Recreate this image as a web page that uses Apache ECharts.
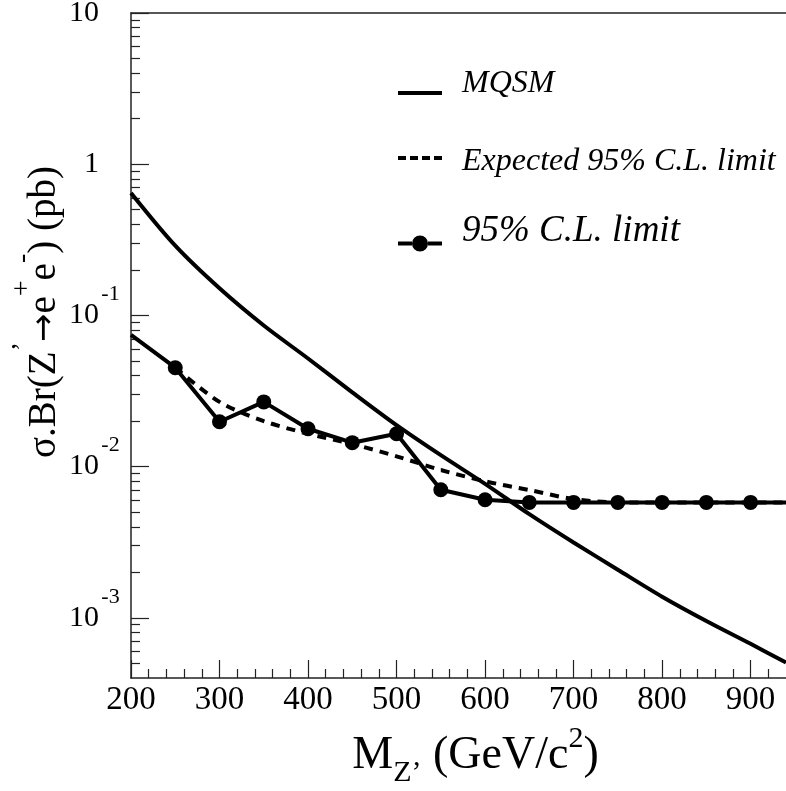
<!DOCTYPE html>
<html>
<head>
<meta charset="utf-8">
<script src="https://cdn.jsdelivr.net/npm/echarts@6/dist/echarts.min.js"></script>
<style>html,body{margin:0;padding:0;background:#fff;}#c{width:786px;height:791px;}</style>
</head>
<body>
<div id="c"></div>
<script>
// ---- data ----
const mqsmMass = [200,250,300,350,400,450,500,550,600,650,700,750,800,850,900,940];
const mqsmXsec = [0.645,0.289,0.151,0.0857,0.0519,0.031,0.0188,0.0119,0.00769,0.00485,0.00315,0.00208,0.00138,0.000953,0.000673,0.000506];

const expMass = [250,300,350,400,450,500,550,600,650,700,750,800,850,900,940];
const expLimit = [0.0451,0.0268,0.0200,0.0165,0.0141,0.0117,0.0095,0.0080,0.0070,0.0061,0.0058,0.0058,0.0058,0.0058,0.0058];

const obsMass = [200,250,300,350,400,450,500,550,600,650,700,750,800,850,900,940];
const obsLimit = [0.0744,0.0451,0.0198,0.0268,0.0178,0.0144,0.0165,0.00703,0.00604,0.0058,0.0058,0.0058,0.0058,0.0058,0.0058,0.0058];
const obsMarked = [false,true,true,true,true,true,true,true,true,true,true,true,true,true,true,false];

const xTickLabels = [200,300,400,500,600,700,800,900];
const yTickLabels = [0.001,0.01,0.1,1,10];

const names = ['MQSM','Expected 95% C.L. limit','95% C.L. limit'];

// ---- build ----
const serif = 'Liberation Serif';
const yMinor = [];
[1e-4,1e-3,1e-2,1e-1,1].forEach(d => { for (let k=2;k<=9;k++){ const v=+(k*d).toPrecision(3); if (v>4e-4 && v<10) yMinor.push(v);} });
const xMinor = [];
for (let v=220; v<=920; v+=20) if (v%100!==0) xMinor.push(v);

const zip = (a,b) => a.map((x,i)=>[x,b[i]]);
const obsData = obsMass.map((m,i)=> obsMarked[i] ? [m,obsLimit[i]] : {value:[m,obsLimit[i]], symbol:'none'});

const supExp = {'0.001':'-3','0.01':'-2','0.1':'-1'};

const chart = echarts.init(document.getElementById('c'), null, {renderer:'canvas'});
const axisLineStyle = {color:'#222', width:1.5};
const legendBase = {orient:'vertical', left:398, padding:0, itemWidth:44, selectedMode:false,
  textStyle:{color:'#000'}};
function legendText(size, padTop, padBottom){
  return {fontFamily:serif, fontStyle:'italic', fontSize:size, color:'#000',
    rich:{t:{fontFamily:serif, fontStyle:'italic', fontSize:size, lineHeight:size+4, color:'#000', padding:[padTop,0,padBottom,15]}}};
}
chart.setOption({
  animation:false,
  backgroundColor:'#fff',
  grid:{left:131, right:0, top:13, bottom:113, containLabel:false, outerBoundsMode:'none'},
  legend:[
    Object.assign({}, legendBase, {top:68, itemHeight:4, formatter:'{t|{name}}',
      data:[{name:names[0], icon:'path://M0,0h44v4h-44z'}], textStyle:legendText(32,0,18)}),
    Object.assign({}, legendBase, {top:138, itemHeight:4, formatter:'{t|{name}}',
      data:[{name:names[1], icon:'path://M0,0h8v4h-8z M12,0h8v4h-8z M24,0h8v4h-8z M36,0h8v4h-8z'}], textStyle:legendText(32,8,0)}),
    Object.assign({}, legendBase, {top:213, itemHeight:16, formatter:'{t|{name}}',
      data:[{name:names[2], icon:'path://M0,8h14v4h-14z M30,8h14v4h-14z M14,10a8,8 0 1,1 16,0a8,8 0 1,1 -16,0z'}], textStyle:legendText(37,0,24)})
  ],
  xAxis:[
    {type:'value', min:200, max:940, position:'bottom', gridIndex:0,
     axisLine:{show:true, lineStyle:axisLineStyle},
     axisTick:{show:true, inside:true, length:18, customValues:xTickLabels, lineStyle:{color:'#222', width:1.2}},
     axisLabel:{customValues:xTickLabels, fontFamily:serif, fontSize:33, color:'#000', margin:6},
     splitLine:{show:false},
     name:'M{sub|Z\u2019} (GeV/c{sup|2})', nameLocation:'middle', nameGap:46,
     nameTextStyle:{fontFamily:serif, fontSize:46, color:'#000', lineHeight:64, padding:[0,0,0,34],
       rich:{sub:{fontFamily:serif, fontSize:30, lineHeight:30, verticalAlign:'bottom', color:'#000'},
             sup:{fontFamily:serif, fontSize:30, lineHeight:30, verticalAlign:'top', color:'#000'}}}},
    {type:'value', min:200, max:940, position:'bottom', gridIndex:0,
     axisLine:{show:false}, axisLabel:{show:false}, splitLine:{show:false},
     axisTick:{show:true, inside:true, length:9, customValues:xMinor, lineStyle:{color:'#222', width:1.2}}},
    {type:'value', min:200, max:940, position:'top', gridIndex:0,
     axisLine:{show:true, lineStyle:axisLineStyle}, axisLabel:{show:false}, axisTick:{show:false}, splitLine:{show:false}}
  ],
  yAxis:[
    {type:'log', logBase:10, min:4e-4, max:10, position:'left', gridIndex:0,
     axisLine:{show:true, lineStyle:axisLineStyle},
     axisTick:{show:true, inside:true, length:18, customValues:yTickLabels, lineStyle:{color:'#222', width:1.2}},
     axisLabel:{customValues:yTickLabels, margin:9, color:'#000',
       formatter:function(v){ const k = String(+v.toPrecision(3)); if (supExp[k]) return '{b|10}{sup|'+supExp[k]+'}'; return '{b|'+k+'}{sp|}'; },
       rich:{b:{fontFamily:serif, fontSize:30, lineHeight:64, color:'#000'},
             sup:{fontFamily:serif, fontSize:22, lineHeight:22, verticalAlign:'top', width:23, align:'left', color:'#000'},
             sp:{width:23, fontSize:22, lineHeight:22}}},
     splitLine:{show:false},
     name:'\u03c3.Br(Z{sup|\u2019}{arr|\u2192}e{sup|+}e{sup|-}) (pb)', nameLocation:'middle', nameGap:50, nameRotate:90,
     nameMoveOverlap:false,
     nameTextStyle:{fontFamily:serif, fontSize:39, color:'#000', lineHeight:72, padding:[0,0,0,67],
       rich:{sup:{fontFamily:serif, fontSize:28, lineHeight:28, verticalAlign:'top', color:'#000'},
             arr:{fontFamily:'DejaVu Sans', fontSize:34, lineHeight:34, color:'#000'}}}},
    {type:'log', logBase:10, min:4e-4, max:10, position:'left', gridIndex:0,
     axisLine:{show:false}, axisLabel:{show:false}, splitLine:{show:false},
     axisTick:{show:true, inside:true, length:9, customValues:yMinor, lineStyle:{color:'#222', width:1.2}}}
  ],
  series:[
    {name:names[1], type:'line', xAxisIndex:0, yAxisIndex:0, data:zip(expMass,expLimit), smooth:0.3,
     showSymbol:false, symbol:'none', lineStyle:{color:'#000', width:4, type:[9,7]}, itemStyle:{color:'#000'}, z:2},
    {name:names[0], type:'line', xAxisIndex:0, yAxisIndex:0, data:zip(mqsmMass,mqsmXsec), smooth:0.3,
     showSymbol:false, symbol:'none', lineStyle:{color:'#000', width:4}, itemStyle:{color:'#000'}, z:3},
    {name:names[2], type:'line', xAxisIndex:0, yAxisIndex:0, data:obsData, symbol:'circle', symbolSize:15, showSymbol:true,
     lineStyle:{color:'#000', width:4}, itemStyle:{color:'#000'}, z:4}
  ]
});
</script>
</body>
</html>
